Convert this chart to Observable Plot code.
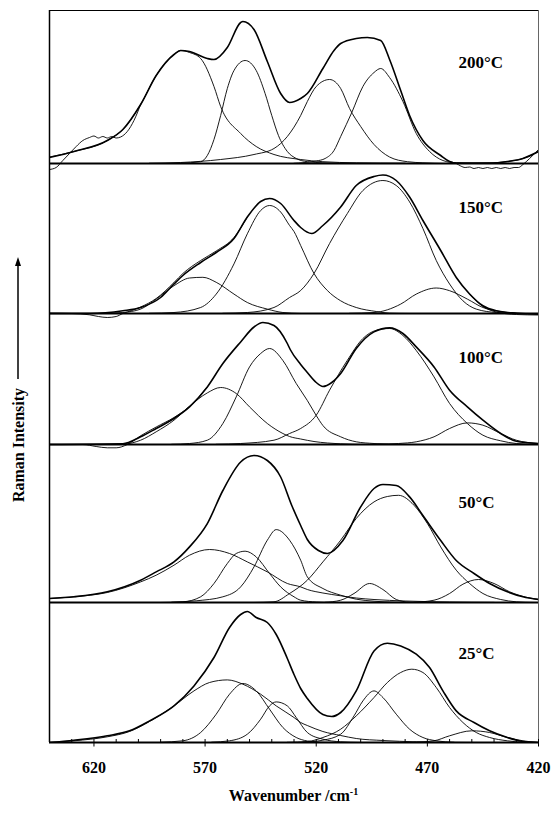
<!DOCTYPE html>
<html><head><meta charset="utf-8">
<script src="https://cdn.jsdelivr.net/npm/d3@7"></script>
<script src="https://cdn.jsdelivr.net/npm/@observablehq/plot@0.6"></script>
<style>
body{margin:0;background:#fff;}
#wrap{position:relative;width:553px;height:814px;}
#xlab{position:absolute;top:786px;left:49px;width:489px;text-align:center;font:bold 16px "Liberation Serif","Times New Roman",serif;color:#000;}
#xlab sup{font-size:10px;}
</style></head><body>
<div id="wrap"><div id="chart"></div><div id="xlab">Wavenumber /cm<sup>-1</sup></div></div>
<script>
// Panel labels, stacking offsets (intensity units) and label levels
const temps = ["200°C","150°C","100°C","50°C","25°C"];
const panelBase = [579, 429, 298, 140, 0];
const labelLevel = [101, 106, 87, 100, 89];
const labelWavenumber = 456;
const majorTicks = [620, 570, 520, 470, 420];
const minorTicks = [630, 610, 600, 590, 580, 560, 550, 540, 530, 510, 500, 490, 480, 460, 450, 440, 430];

// ---- 200 °C ----
const env200 = [[640,6],[629,12],[614,23],[607,34],[599,59],[592,88],[584,109],[581,113],[577,112],[569,105],[566,104],[560,116],[554,141],[553,142],[548,134],[542,102],[536,70],[532,61],[527,65],[524,70],[517,95],[512,113],[509,120],[502,125],[497,126],[491,123],[487,104],[482,73],[478,48],[472,23],[464,8],[460,2],[457,0.4],[442,0.4],[434,2],[427,5],[420,12]];
const meas200L = [[640,-6],[637,-4],[634,3],[631,10],[628,17],[625,23],[622,26],[620,27.5],[618,25.5],[616,27],[614,25.5],[612,27],[610,25.5],[608,26.5],[605,32],[602,43],[599,59]];
const meas200R = [[460,2],[457,0],[455,-2.5],[453,-4],[451,-3.5],[449,-5],[447,-4],[445,-5],[443,-4],[441,-5],[439,-4],[437,-5],[435,-4],[433,-5],[431,-4],[429,-4],[427,-1],[424,5],[420,14]];
const peaks200 = [
  [[640,6.5],[629,12],[614,23],[607,34],[599,59],[592,88],[584,109],[581,113],[577,111],[572,105],[566,77],[563,57],[554,30],[547,17],[539,9],[527,4],[517,1.8],[502,0.7],[480,0.3]],
  [[590,0],[581,0.3],[572,1.8],[569,8],[566,24],[563,48],[560,75],[557,93],[552,103],[547,93],[543,70],[540,48],[537,28],[533,12],[529,5],[524,1.8],[517,0.7],[505,0]],
  [[595,0.3],[581,1],[563,4],[548,9],[539,15],[533,27],[527,48],[524,62],[520,77],[514,84],[509,75],[505,55],[500,37],[494,19],[487,6.5],[479,1.8],[472,0.7],[462,0]],
  [[530,0.2],[526,0.8],[520,2.5],[516,5],[512,13],[509,27],[504,51],[499,77],[494,91],[491,95],[487,86],[481,62],[475,30],[469,12],[463,3],[457,0.5],[450,0]],
  [[450,0],[442,0.4],[434,2],[427,5],[420,12]]
];

// ---- 150 °C ----
const env150 = [[640,0],[622,0],[607,2.7],[599,6],[590,16],[584,29.5],[580,38],[572,51],[565,61],[557,75],[551,96.5],[545,112],[541,115],[536,110],[530,93],[527,86],[522,80],[517,88],[509,106.5],[502,128],[494,137],[490,138.5],[484,133],[478,116.5],[472,93],[464,63],[457,36],[451,19.5],[445,7.7],[439,2.7],[430,0.3],[420,-0.7]];
const meas150L = [[640,0.3],[630,0],[622,-1.3],[618,-3],[614,-4],[610,-3],[607,0],[603,3],[599,6.5],[592,15],[584,31],[580,40],[572,53],[565,62.5],[557,76],[551,96.5]];
const meas150R = [[451,19.5],[445,7],[439,1.5],[430,-1],[420,-1.5]];
const peaks150 = [
  [[615,0.2],[607,1],[599,4.4],[592,14.4],[584,27.8],[577,35.5],[571,36.2],[565,31.2],[557,19.4],[551,11],[542,4.4],[535,1],[527,0]],
  [[595,0.2],[584,1],[572,6],[565,19.4],[557,49.6],[551,79.7],[545,103],[541,108],[536,101.5],[532,88],[530,82],[527,68],[521,40],[515,23],[509,12.7],[502,6],[493,2],[487,0.3],[478,0]],
  [[562,0.2],[551,1],[539,6],[532,16],[527,23],[521,40],[514,70],[506,100],[499,123],[490,133],[484,128],[478,111.6],[472,85],[466,53],[460,29.5],[454,12.7],[448,4.4],[439,1],[430,0.2]],
  [[505,0.2],[494,1],[482,9.4],[475,19.4],[466,25.5],[460,22.8],[452,14.4],[445,6],[439,2.7],[430,0.3],[424,0]]
];

// ---- 100 °C ----
const env100 = [[640,0],[607,0.7],[599,7.7],[592,16],[584,26],[577,37.6],[569,57.6],[562,81],[554,102.6],[548,117.5],[544,122],[539,119],[533,101],[531.7,95],[527,80],[524,72],[520,62],[517,58],[513,62],[509,71],[502,96],[494,112.6],[487,116.6],[481,111],[475,97.6],[467,77.6],[460,54.3],[452,37.6],[445,24.3],[437,11],[430,3.3],[420,1]];
const meas100L = [[640,0],[625,0],[619,-2],[614,-3.3],[610,-3.3],[605,0],[599,8.7],[592,17.5],[584,27],[577,38],[569,57.6]];
const peaks100 = [
  [[615,0],[607,0.3],[599,4.3],[592,12.7],[584,24.3],[577,38.3],[569,51.6],[563,57],[556,51],[550,37.6],[542,21],[535,11],[532,8],[527,5.5],[521,3],[509,0.7],[498,0]],
  [[585,0.2],[577,1],[569,4.3],[562,21],[556,47.6],[550,77.6],[545,91],[541,96],[535,84],[529,61],[524,44],[520,29],[517,19],[509,7.7],[502,2.7],[494,1],[487,0.3],[478,0]],
  [[565,0.2],[554,1],[539,4.3],[532,11],[527,16],[520,29.3],[514,54.3],[506,84.2],[499,106],[493,114.2],[487,116],[481,109],[475,94],[467,67.6],[460,41],[452,21],[445,9.3],[437,3.7],[430,1],[422,0.2]],
  [[492,0.2],[483,1],[475,2.7],[467,7.7],[460,16],[452,21.6],[445,19.3],[437,11],[430,4.3],[420,1]]
];

// ---- 50 °C ----
const env50 = [[640,4],[629,5.7],[614,10.7],[599,22.3],[592,30.6],[584,40.6],[577,55.6],[569,78.9],[562,112],[554,140.5],[548,147],[542,142],[536,125.5],[531,97],[527,77],[524,63],[519,52],[515,49],[508,62],[500,95.6],[494,114],[490,118],[484,117],[478,105.6],[472,87],[464,62],[457,42],[449,29],[442,19],[434,10.7],[427,5.7],[420,3]];
const peaks50 = [
  [[640,4],[629,5.7],[614,10],[599,20.6],[592,27.3],[584,37.3],[577,47.3],[568,53],[559,49],[551,40.6],[542,30.6],[533,19],[527,15.6],[524,13],[517,9.5],[509,6.7],[502,4.5],[494,3],[480,1.5],[460,0.5],[440,0.1]],
  [[590,0],[580,0.7],[572,5.7],[566,19],[560,39],[556,49],[552,51.3],[547,45.6],[541,29],[536,15.6],[530,5.7],[527,2.3],[520,0.5],[512,0]],
  [[585,0.3],[574,1.7],[562,5.7],[554,15.6],[548,35.6],[542,62.3],[538,72.9],[532,62.3],[527,42.3],[524,25.6],[517,14],[509,7.3],[502,3.3],[494,1.3],[485,0.3],[476,0]],
  [[516,0.2],[509,2.3],[503,9],[496,19],[490,13],[484,3],[478,0.3],[472,0]],
  [[548,0],[539,0.7],[532,9],[524,22.3],[517,40.6],[509,62.3],[502,84],[494,100.6],[488,106],[483,107.2],[476,97.2],[470,79],[464,55.6],[457,32.3],[451,19],[445,9],[437,3],[430,0.7],[422,0]],
  [[476,0.2],[467,2.3],[460,9],[454,18.3],[447,23],[440,19],[433,10.7],[425,5],[420,3]]
];

// ---- 25 °C ----
const env25 = [[640,0],[629,2.3],[614,6.7],[604,11.7],[595,21.6],[584,36.6],[575,56.6],[566,85],[559,115],[554,128],[551,131],[547,125],[542,120],[538,108],[533,84],[530,68],[527,54],[524,44],[517,28],[513,26],[509,30],[502,51.6],[494,91.6],[488,99.3],[482,96.6],[475,88.3],[469,75],[463,51.6],[457,31.6],[449,20],[442,11.7],[434,5],[427,1],[420,0]];
const peaks25 = [
  [[640,0],[629,1.7],[614,5.7],[604,11],[595,21],[584,36.6],[575,51.6],[568,60],[560,62.6],[553,58.3],[545,48.3],[538,36.6],[530,25],[527,20],[524,17],[517,11],[509,7],[502,4],[490,2],[475,0.7],[460,0.2],[445,0]],
  [[590,0.3],[580,1.7],[572,10],[565,28.3],[559,48.3],[553,59],[547,51.6],[541,33.3],[535,15],[529,5],[524,1.5],[518,0.3],[510,0]],
  [[567,0.3],[559,1.7],[551,8.3],[545,23.3],[541,36.6],[538,40.6],[533,36.6],[529,25],[524,10],[517,3.3],[509,0.7],[500,0]],
  [[526,0.3],[517,2.3],[509,8.3],[503,26.6],[499,41.6],[494,51.6],[490,45],[484,28.3],[478,13.3],[472,5],[466,1.7],[458,0.2]],
  [[533,0.2],[524,1],[517,5],[509,13.3],[502,26.6],[494,45],[488,60],[482,70],[477,73.3],[472,70],[466,55],[460,35],[454,20],[448,10],[442,5],[434,1.7],[427,0.3],[420,0]],
  [[476,0.2],[467,1.7],[460,6.7],[450,11.7],[442,10],[434,5],[427,1.7],[420,0]]
];

// Build tidy tables for Plot
const panelSets = [
  {env: env200, meas: [meas200L, meas200R], peaks: peaks200},
  {env: env150, meas: [meas150L, meas150R], peaks: peaks150},
  {env: env100, meas: [meas100L], peaks: peaks100},
  {env: env50, meas: [], peaks: peaks50},
  {env: env25, meas: [], peaks: peaks25}
];
const peakRows = [], envRows = [], measRows = [];
panelSets.forEach((p, i) => {
  const base = panelBase[i];
  p.peaks.forEach((pk, j) => pk.forEach(([w, v]) => peakRows.push({id: `${i}-${j}`, w, y: base + v})));
  p.env.forEach(([w, v]) => envRows.push({id: `${i}`, w, y: base + v}));
  p.meas.forEach((m, j) => m.forEach(([w, v]) => measRows.push({id: `${i}-${j}`, w, y: base + v})));
});
const labelRows = temps.map((t, i) => ({t, w: labelWavenumber, y: panelBase[i] + labelLevel[i]}));

const font = "'Liberation Serif','Times New Roman',serif";
const chart = Plot.plot({
  width: 553, height: 785,
  marginLeft: 49, marginRight: 15, marginTop: 10, marginBottom: 43,
  style: {fontFamily: font, background: "#fff", color: "#000"},
  x: {domain: [640, 420], axis: null},
  y: {domain: [0, 732], axis: null},
  marks: [
    Plot.line(peakRows, {x: "w", y: "y", z: "id", curve: "monotone-x", stroke: "#000", strokeWidth: 0.9, clip: true}),
    Plot.line(measRows, {x: "w", y: "y", z: "id", curve: "monotone-x", stroke: "#000", strokeWidth: 0.9, clip: true}),
    Plot.line(envRows, {x: "w", y: "y", z: "id", curve: "monotone-x", stroke: "#000", strokeWidth: 1.6, clip: true}),
    Plot.ruleY(panelBase, {stroke: "#000", strokeWidth: 2.2}),
    Plot.ruleY([732], {stroke: "#000", strokeWidth: 1}),
    Plot.ruleX([640], {stroke: "#000", strokeWidth: 1.5}),
    Plot.ruleX([420], {stroke: "#666", strokeWidth: 1}),
    Plot.axisX(minorTicks, {anchor: "bottom", tickSize: 3, dy: -3, fill: "none", label: null}),
    Plot.axisX(majorTicks, {anchor: "bottom", tickSize: 7.5, dy: -3, fill: "none", label: null}),
    Plot.axisX(majorTicks, {anchor: "bottom", tickSize: 0, tickPadding: 19, label: null, fontSize: 16, fontWeight: "bold", fontFamily: font}),
    Plot.text(labelRows, {x: "w", y: "y", text: "t", textAnchor: "start", fontSize: 17, fontWeight: "bold", fontFamily: font, fill: "#000"})
  ]
});
document.getElementById("chart").appendChild(chart);

// Y-axis title with upward arrow
const svg = d3.select(chart);
const g = svg.append("g").attr("transform", "translate(18,445) rotate(-90)");
g.append("text").attr("text-anchor", "middle").attr("dy", "0.35em")
  .attr("font-family", font).attr("font-size", 16).attr("font-weight", "bold").attr("fill", "#000")
  .text("Raman Intensity");
g.append("line").attr("x1", 66).attr("x2", 182).attr("y1", 0).attr("y2", 0).attr("stroke", "#000").attr("stroke-width", 1.5);
g.append("path").attr("d", "M188,0 L179,-3 L179,3 Z").attr("fill", "#000");
</script></body></html>
